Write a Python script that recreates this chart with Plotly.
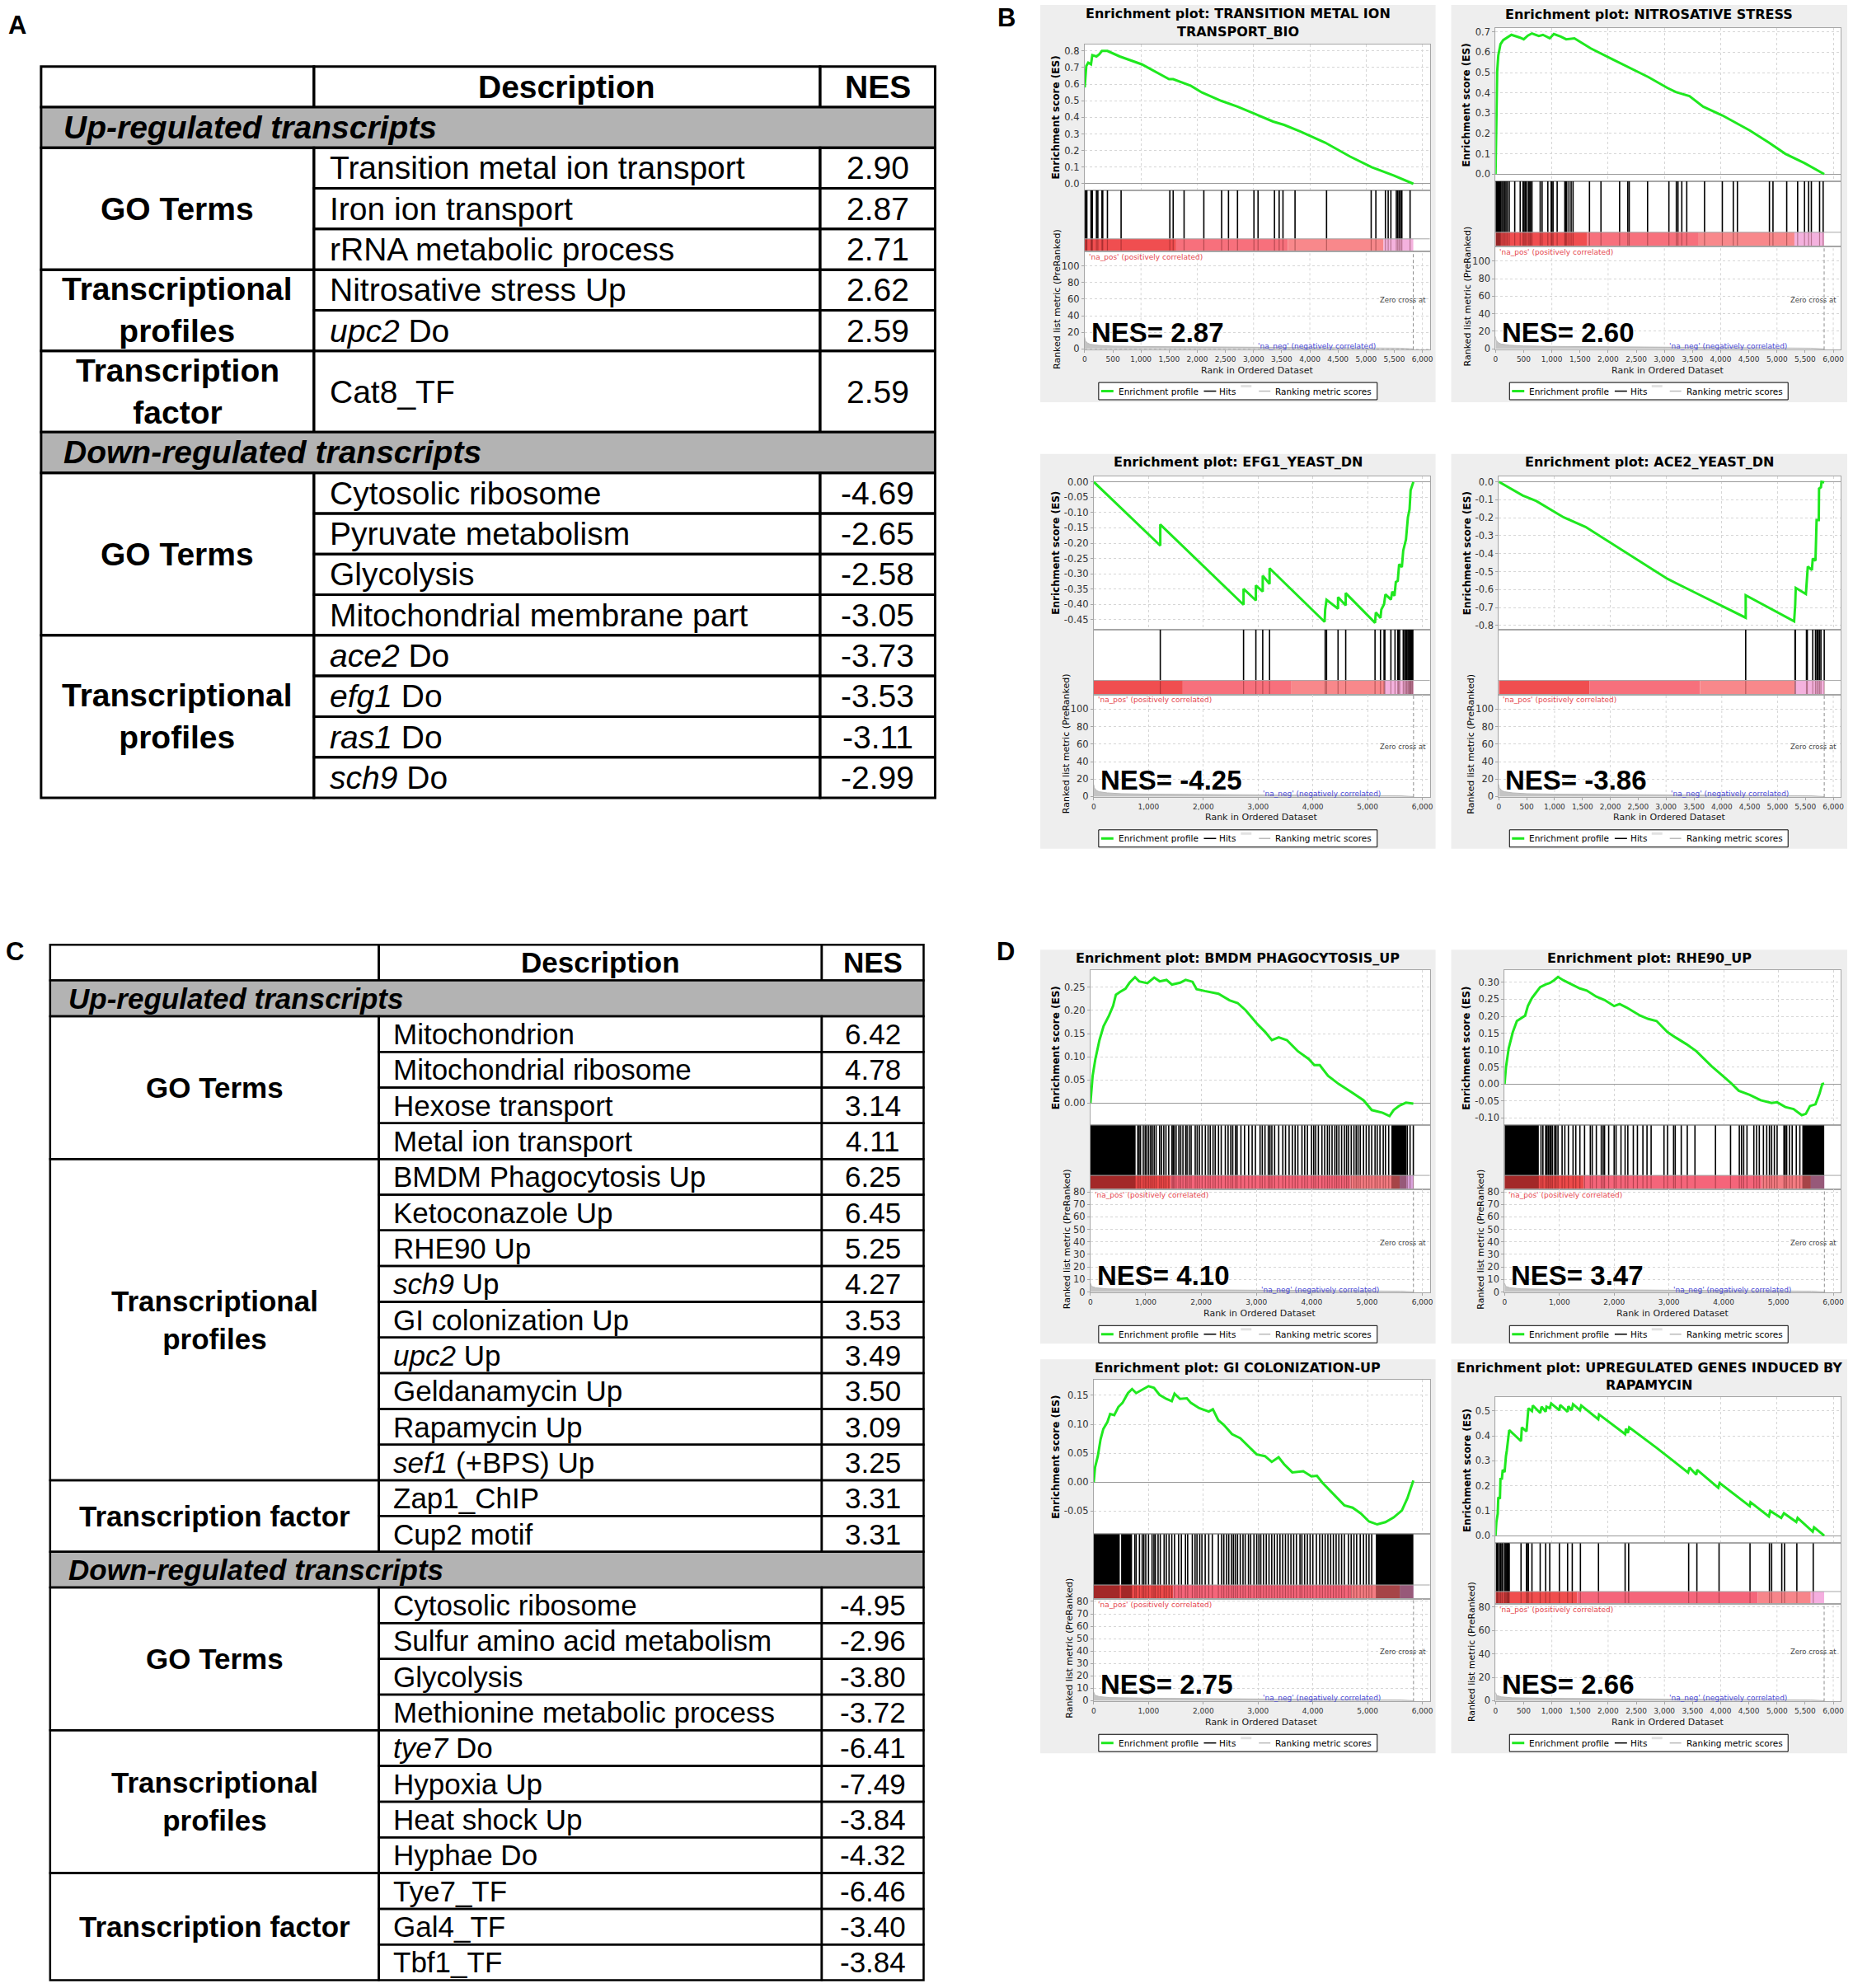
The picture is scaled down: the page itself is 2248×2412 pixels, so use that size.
import plotly.graph_objects as go

W, H = 2248, 2412
TFONT = "Liberation Sans, Arial, Helvetica, sans-serif"
GFONT = "DejaVu Sans, Verdana, sans-serif"

# ---------------- Table A ----------------
A_UP_GO = [("Transition metal ion transport", 2.90), ("Iron ion transport", 2.87), ("rRNA metabolic process", 2.71)]
A_UP_TP = [("Nitrosative stress Up", 2.62), ("<i>upc2</i> Do", 2.59)]
A_UP_TF = [("Cat8_TF", 2.59)]
A_DN_GO = [("Cytosolic ribosome", -4.69), ("Pyruvate metabolism", -2.65), ("Glycolysis", -2.58),
           ("Mitochondrial membrane part", -3.05)]
A_DN_TP = [("<i>ace2</i> Do", -3.73), ("<i>efg1</i> Do", -3.53), ("<i>ras1</i> Do", -3.11), ("<i>sch9</i> Do", -2.99)]

# ---------------- Table C ----------------
C_UP_GO = [("Mitochondrion", 6.42), ("Mitochondrial ribosome", 4.78), ("Hexose transport", 3.14),
           ("Metal ion transport", 4.11)]
C_UP_TP = [("BMDM Phagocytosis Up", 6.25), ("Ketoconazole Up", 6.45), ("RHE90 Up", 5.25), ("<i>sch9</i> Up", 4.27),
           ("GI colonization Up", 3.53), ("<i>upc2</i> Up", 3.49), ("Geldanamycin Up", 3.50), ("Rapamycin Up", 3.09),
           ("<i>sef1</i> (+BPS) Up", 3.25)]
C_UP_TF = [("Zap1_ChIP", 3.31), ("Cup2 motif", 3.31)]
C_DN_GO = [("Cytosolic ribosome", -4.95), ("Sulfur amino acid metabolism", -2.96), ("Glycolysis", -3.80),
           ("Methionine metabolic process", -3.72)]
C_DN_TP = [("<i>tye7</i> Do", -6.41), ("Hypoxia Up", -7.49), ("Heat shock Up", -3.84), ("Hyphae Do", -4.32)]
C_DN_TF = [("Tye7_TF", -6.46), ("Gal4_TF", -3.40), ("Tbf1_TF", -3.84)]

# ---------------- GSEA enrichment plots (B and D) ----------------
GSEA_TITLES = [
    ["Enrichment plot: TRANSITION METAL ION", "TRANSPORT_BIO"],
    ["Enrichment plot: NITROSATIVE STRESS"],
    ["Enrichment plot: EFG1_YEAST_DN"],
    ["Enrichment plot: ACE2_YEAST_DN"],
    ["Enrichment plot: BMDM PHAGOCYTOSIS_UP"],
    ["Enrichment plot: RHE90_UP"],
    ["Enrichment plot: GI COLONIZATION-UP"],
    ["Enrichment plot: UPREGULATED GENES INDUCED BY", "RAPAMYCIN"],
]
GSEA_NES = ["2.87", "2.60", "-4.25", "-3.86", "4.10", "3.47", "2.75", "2.66"]

B1_ES = [(0, 0.58), (29, 0.71), (63, 0.73), (112, 0.72), (136, 0.775), (209, 0.767), (258, 0.78), (307, 0.80),
         (404, 0.80), (623, 0.767), (1012, 0.72), (1499, 0.63), (1572, 0.63), (1888, 0.59), (2083, 0.55),
         (2423, 0.50), (2715, 0.465), (3007, 0.425), (3348, 0.375), (3543, 0.355), (3834, 0.315), (4272, 0.248),
         (4710, 0.165), (5100, 0.10), (5489, 0.05), (5839, 0.0)]
B2_ES = [(0, 0.0), (15, 0.30), (29, 0.505), (49, 0.585), (88, 0.64), (136, 0.66), (209, 0.673), (282, 0.686),
         (428, 0.673), (501, 0.664), (574, 0.682), (647, 0.693), (769, 0.68), (842, 0.686), (963, 0.669),
         (1036, 0.69), (1158, 0.677), (1255, 0.664), (1401, 0.669), (1693, 0.619), (2083, 0.565), (2375, 0.525),
         (2715, 0.478), (3056, 0.424), (3202, 0.404), (3445, 0.384), (3689, 0.332), (4029, 0.289), (4272, 0.252),
         (4516, 0.215), (4856, 0.155), (5148, 0.10), (5489, 0.054), (5839, 0.0)]
B3_ES = [(0, 0.0), (1215, -0.208), (1215, -0.139), (2735, -0.401), (2735, -0.349), (2960, -0.387), (2960, -0.338),
         (3085, -0.358), (3085, -0.306), (3210, -0.333), (3210, -0.282), (4215, -0.457), (4225, -0.417),
         (4250, -0.385), (4460, -0.414), (4460, -0.376), (4600, -0.403), (4600, -0.363), (5135, -0.46),
         (5150, -0.426), (5235, -0.444), (5250, -0.417), (5300, -0.399), (5325, -0.367), (5425, -0.384),
         (5450, -0.358), (5490, -0.372), (5515, -0.327), (5550, -0.323), (5575, -0.269), (5625, -0.278),
         (5650, -0.224), (5700, -0.188), (5735, -0.116), (5765, -0.09), (5785, -0.027), (5835, 0.0)]
B4_ES = [(0, 0.0), (427, -0.076), (673, -0.107), (1164, -0.198), (1556, -0.251), (1949, -0.328), (2538, -0.442),
         (3029, -0.541), (3521, -0.617), (3962, -0.686), (4429, -0.757), (4429, -0.632), (5298, -0.777),
         (5317, -0.686), (5327, -0.591), (5509, -0.625), (5524, -0.556), (5543, -0.472), (5617, -0.491),
         (5632, -0.427), (5681, -0.439), (5691, -0.29), (5701, -0.213), (5740, -0.213), (5745, -0.038),
         (5779, -0.030), (5789, 0.0), (5838, -0.003)]
D1_ES = [(0, 0.0), (40, 0.059), (89, 0.095), (163, 0.136), (237, 0.166), (336, 0.189), (410, 0.210), (460, 0.234),
         (534, 0.24), (633, 0.247), (707, 0.26), (806, 0.272), (880, 0.263), (1029, 0.259), (1152, 0.271),
         (1251, 0.263), (1375, 0.266), (1474, 0.256), (1622, 0.26), (1721, 0.266), (1845, 0.262), (1919, 0.246),
         (2067, 0.242), (2216, 0.238), (2315, 0.236), (2513, 0.222), (2661, 0.216), (2809, 0.20), (3007, 0.172),
         (3155, 0.154), (3279, 0.136), (3403, 0.142), (3551, 0.136), (3749, 0.112), (3947, 0.095), (4046, 0.082),
         (4145, 0.082), (4293, 0.059), (4491, 0.041), (4738, 0.022), (4936, 0.006), (5084, -0.015),
         (5282, -0.021), (5406, -0.028), (5480, -0.015), (5579, -0.006), (5703, 0.001), (5836, -0.001)]
D2_ES = [(0, 0.0), (25, 0.049), (75, 0.105), (150, 0.153), (225, 0.186), (300, 0.194), (375, 0.202), (425, 0.23),
         (500, 0.254), (575, 0.27), (650, 0.286), (750, 0.294), (825, 0.298), (900, 0.306), (975, 0.316),
         (1075, 0.306), (1225, 0.294), (1375, 0.282), (1500, 0.276), (1675, 0.258), (1825, 0.248), (2000, 0.23),
         (2100, 0.236), (2225, 0.226), (2475, 0.202), (2625, 0.192), (2775, 0.186), (2975, 0.153), (3125, 0.137),
         (3325, 0.117), (3500, 0.097), (3775, 0.053), (3975, 0.025), (4125, 0.004), (4275, -0.02), (4475, -0.032),
         (4675, -0.048), (4875, -0.056), (4975, -0.054), (5125, -0.068), (5275, -0.074), (5425, -0.092),
         (5500, -0.088), (5575, -0.065), (5675, -0.06), (5750, -0.028), (5800, 0.0), (5835, 0.001)]
D3_ES = [(0, 0.0), (25, 0.026), (75, 0.045), (125, 0.074), (175, 0.092), (250, 0.104), (300, 0.118), (375, 0.116),
         (450, 0.13), (525, 0.137), (625, 0.154), (700, 0.161), (775, 0.154), (850, 0.158), (950, 0.164),
         (1000, 0.166), (1100, 0.163), (1200, 0.151), (1325, 0.144), (1425, 0.14), (1475, 0.153), (1575, 0.144),
         (1700, 0.145), (1775, 0.137), (1925, 0.128), (2100, 0.122), (2175, 0.126), (2275, 0.107), (2375, 0.099),
         (2525, 0.083), (2675, 0.076), (2825, 0.062), (2975, 0.048), (3125, 0.045), (3250, 0.035), (3375, 0.043),
         (3475, 0.031), (3625, 0.017), (3825, 0.019), (3975, 0.01), (4075, 0.011), (4175, -0.001), (4375, -0.021),
         (4575, -0.04), (4725, -0.044), (4875, -0.054), (5025, -0.068), (5175, -0.073), (5325, -0.069),
         (5475, -0.061), (5625, -0.049), (5725, -0.028), (5835, 0.003)]
D4_ES = [(0, 0.0), (15, 0.055), (39, 0.088), (49, 0.154), (78, 0.148), (88, 0.231), (112, 0.225), (127, 0.264),
         (161, 0.255), (170, 0.286), (185, 0.319), (200, 0.341), (224, 0.396), (243, 0.423), (453, 0.379),
         (467, 0.434), (550, 0.418), (564, 0.473), (584, 0.511), (647, 0.50), (662, 0.522), (793, 0.492),
         (818, 0.517), (890, 0.497), (905, 0.517), (963, 0.511), (988, 0.53), (1134, 0.503), (1148, 0.524),
         (1280, 0.497), (1294, 0.519), (1353, 0.503), (1377, 0.527), (1499, 0.503), (1523, 0.522), (1825, 0.467),
         (1839, 0.486), (2302, 0.407), (2316, 0.429), (2350, 0.412), (2375, 0.434), (2861, 0.352), (3421, 0.253),
         (3445, 0.273), (3567, 0.244), (3582, 0.264), (3957, 0.192), (3981, 0.211), (4516, 0.118), (4530, 0.134),
         (4856, 0.077), (4881, 0.099), (5075, 0.071), (5124, 0.09), (5343, 0.055), (5367, 0.071), (5635, 0.016),
         (5659, 0.033), (5839, 0.0)]

B1_HITS = [15, 29, 39, 112, 127, 136, 209, 234, 307, 321, 404, 647, 1513, 1572, 1766, 2117, 2433, 2555, 2715,
           3007, 3080, 3372, 3455, 3523, 3737, 4297, 5090, 5173, 5343, 5392, 5440, 5537, 5562, 5586, 5611, 5635,
           5781]
B2_HITS = [10, 19, 29, 39, 49, 58, 68, 78, 88, 112, 136, 161, 185, 209, 243, 341, 438, 487, 506, 526, 550, 584,
           608, 623, 647, 793, 827, 929, 988, 1002, 1022, 1095, 1231, 1246, 1265, 1304, 1343, 1377, 1669, 1873,
           2204, 2350, 2375, 2701, 3080, 3212, 3241, 3309, 3397, 3713, 4029, 4224, 4297, 4866, 4929, 5173, 5367,
           5489, 5562, 5611, 5757, 5820]
B3_HITS = [1215, 2735, 2960, 3085, 3210, 4225, 4250, 4460, 4600, 5135, 5235, 5300, 5315, 5425, 5500, 5550, 5565,
           5585, 5650, 5675, 5700, 5715, 5735, 5750, 5765, 5775, 5785, 5800, 5815, 5825]
B4_HITS = [4429, 5313, 5322, 5519, 5534, 5632, 5681, 5706, 5730, 5755, 5779, 5838]
D1_HITS = [856, 880, 905, 955, 989, 1019, 1053, 1088, 1118, 1152, 1187, 1251, 1286, 1326, 1365, 1415, 1474, 1494,
           1513, 1548, 1598, 1632, 1672, 1721, 1746, 1786, 1820, 1894, 1929, 1969, 2018, 2077, 2127, 2166, 2216,
           2255, 2315, 2364, 2438, 2488, 2537, 2572, 2621, 2651, 2720, 2785, 2859, 2923, 2982, 3066, 3106, 3155,
           3215, 3245, 3279, 3329, 3403, 3477, 3526, 3591, 3650, 3700, 3749, 3823, 3873, 3922, 3996, 4036, 4071,
           4120, 4184, 4234, 4283, 4318, 4367, 4417, 4451, 4491, 4540, 4590, 4629, 4664, 4714, 4763, 4803, 4837,
           4877, 4936, 4985, 5035, 5084, 5144, 5183, 5233, 5292, 5332, 5391, 5727, 5777, 5836]
D2_HITS = [665, 700, 750, 775, 800, 825, 850, 875, 915, 940, 975, 1050, 1100, 1165, 1250, 1300, 1375, 1460, 1565,
           1600, 1675, 1765, 1800, 1825, 1900, 2000, 2035, 2125, 2200, 2250, 2350, 2425, 2525, 2600, 2675, 2910,
           2975, 3085, 3115, 3225, 3335, 3475, 3850, 4125, 4285, 4325, 4365, 4425, 4550, 4600, 4650, 4725, 4785,
           4835, 4875, 4925, 4975, 5100, 5125, 5150, 5200, 5250, 5325, 5390]
D3_HITS = [750, 775, 835, 885, 915, 950, 1000, 1065, 1100, 1125, 1175, 1215, 1285, 1325, 1375, 1425, 1475, 1550,
           1600, 1675, 1715, 1800, 1850, 1885, 1935, 1975, 2035, 2100, 2165, 2275, 2335, 2375, 2425, 2465, 2515,
           2550, 2585, 2625, 2675, 2725, 2765, 2825, 2865, 2925, 2975, 3015, 3050, 3100, 3150, 3200, 3250, 3300,
           3350, 3400, 3450, 3500, 3550, 3600, 3650, 3700, 3765, 3800, 3850, 3900, 3950, 4000, 4065, 4125, 4175,
           4225, 4275, 4325, 4375, 4425, 4475, 4525, 4575, 4650, 4700, 4750, 4800, 4865, 4925, 4975, 5025, 5075]
D4_HITS = [15, 29, 39, 49, 78, 88, 112, 127, 161, 170, 185, 200, 209, 224, 234, 243, 453, 550, 564, 584, 647, 793,
           890, 963, 1134, 1280, 1363, 1508, 1829, 2302, 2365, 3431, 3577, 3971, 4521, 4866, 4905, 5085, 5134, 5353,
           5644]
D1_BLOCKS = [(0, 816), (5440, 5712)]
D2_BLOCKS = [(0, 625), (5435, 5835)]
D3_BLOCKS = [(0, 475), (500, 700), (5150, 5835)]

B_SEGS = [(0, 1625, "#F04E50"), (1625, 3610, "#F7707C"), (3610, 5310, "#F8888B"), (5310, 5838, "#F4B2DE")]
D_SEGS = [(0, 1450, "#EE4A4A"), (1450, 4700, "#F5657A"), (4700, 5590, "#F47C82"), (5590, 5838, "#D9A3DC")]
D4_SEGS = [(0, 1450, "#F04E4E"), (1450, 4660, "#F5657A"), (4660, 5600, "#F7858A"), (5600, 5838, "#F5AEDF")]

B_METRIC = [(0, 14), (10, 10), (50, 7), (100, 5.5), (250, 4.2), (500, 3.3), (1000, 2.8), (2000, 2.3), (3000, 2.0),
            (4000, 1.6), (5000, 1.2), (5600, 0.8), (5838, 0)]
D_METRIC = [(0, 7), (20, 4.5), (100, 3.3), (300, 2.5), (1000, 2.0), (3000, 1.5), (5000, 1.0), (5600, 0.6),
            (5838, 0)]
ZERO_CROSS = 5838

B1_ES_TICKS = [0.0, 0.1, 0.2, 0.3, 0.4, 0.5, 0.6, 0.7, 0.8]
B2_ES_TICKS = [0.0, 0.1, 0.2, 0.3, 0.4, 0.5, 0.6, 0.7]
B3_ES_TICKS = [0.0, -0.05, -0.10, -0.15, -0.20, -0.25, -0.30, -0.35, -0.40, -0.45]
B4_ES_TICKS = [0.0, -0.1, -0.2, -0.3, -0.4, -0.5, -0.6, -0.7, -0.8]
D1_ES_TICKS = [0.0, 0.05, 0.10, 0.15, 0.20, 0.25]
D2_ES_TICKS = [-0.10, -0.05, 0.0, 0.05, 0.10, 0.15, 0.20, 0.25, 0.30]
D3_ES_TICKS = [-0.05, 0.0, 0.05, 0.10, 0.15]
D4_ES_TICKS = [0.0, 0.1, 0.2, 0.3, 0.4, 0.5]
MET_TICKS_B = [0, 20, 40, 60, 80, 100]
MET_TICKS_D = [0, 10, 20, 30, 40, 50, 60, 70, 80]
MET_TICKS_D4 = [0, 20, 40, 60, 80]

# ---------------- layout geometry (pixels) ----------------
GEOM = [
    dict(z0=(1260, 0), bg=(3, 2, 484, 486), ty=[13, 35], left=57, es=(50, 228), bar=(287, 302), mb=422,
         esr=[-0.04, 0.84], dec=1, mr=[-1, 117.8], xstep=500),
    dict(z0=(1760, 0), bg=(3, 2, 485, 486), ty=[14], left=57, es=(30, 217), bar=(279, 296), mb=422,
         esr=[-0.036, 0.72], dec=1, mr=[-0.9, 116.8], xstep=500),
    dict(z0=(1260, 540), bg=(3, 9, 484, 490), ty=[19], left=68, es=(36, 223), bar=(285, 302), mb=427,
         esr=[-0.482, 0.019], dec=2, mr=[-0.5, 116.8], xstep=1000),
    dict(z0=(1760, 540), bg=(3, 9, 485, 490), ty=[19], left=61, es=(36, 223), bar=(285, 302), mb=427,
         esr=[-0.823, 0.032], dec=1, mr=[-0.5, 116.8], xstep=500),
    dict(z0=(1260, 1140), bg=(3, 13, 484, 493), ty=[23], left=64, es=(38, 227), bar=(288, 305), mb=431,
         esr=[-0.048, 0.287], dec=2, mr=[-0.66, 82], xstep=1000),
    dict(z0=(1760, 1140), bg=(3, 13, 485, 493), ty=[23], left=68, es=(38, 227), bar=(288, 305), mb=431,
         esr=[-0.122, 0.336], dec=2, mr=[-0.66, 82], xstep=1000),
    dict(z0=(1260, 1640), bg=(3, 12, 484, 492), ty=[22], left=68, es=(37, 225), bar=(287, 304), mb=429,
         esr=[-0.0897, 0.177], dec=2, mr=[-0.66, 82], xstep=1000),
    dict(z0=(1760, 1640), bg=(3, 12, 485, 492), ty=[22, 43], left=57, es=(58, 236), bar=(295, 310), mb=429,
         esr=[-0.03, 0.556], dec=1, mr=[-0.7, 82.8], xstep=500),
]

PANEL_BG = "#EEEEEE"
FRAME = "#A6A6A6"
GRID = "#D6D6D6"
GDASH = "3px,3px"
GREEN = "#1FE81F"
BAND_GRAY = "#B3B3B3"

shapes, annotations, traces = [], [], []
axes = {}


def X(px):
    return px / W


def Y(py):
    return 1 - py / H


def prect(x0, y0, x1, y1, fill="rgba(0,0,0,0)", lw=0, lc="black", layer="below"):
    shapes.append(dict(type="rect", xref="paper", yref="paper", x0=X(x0), x1=X(x1), y0=Y(y1), y1=Y(y0),
                       line=dict(width=lw, color=lc), fillcolor=fill, layer=layer))


def pline(x0, y0, x1, y1, lw=1, color="black", layer="above"):
    shapes.append(dict(type="line", xref="paper", yref="paper", x0=X(x0), x1=X(x1), y0=Y(y0), y1=Y(y1),
                       line=dict(width=lw, color=color), layer=layer))


def ptext(x, y, s, size, family=TFONT, color="black", xanchor="center", yanchor="middle", angle=0):
    annotations.append(dict(x=X(x), y=Y(y), xref="paper", yref="paper", text=s, showarrow=False,
                            xanchor=xanchor, yanchor=yanchor, textangle=angle,
                            font=dict(size=size, family=family, color=color)))


def xr_(n):
    return "x" if n == 1 else f"x{n}"


def yr_(n):
    return "y" if n == 1 else f"y{n}"


def xk(n):
    return "xaxis" if n == 1 else f"xaxis{n}"


def yk(n):
    return "yaxis" if n == 1 else f"yaxis{n}"


# ---------------- tables ----------------
def draw_table(cols, top, rh, sections, fs, lw, pad_desc, pad_band):
    c0, c1, c2, c3 = cols
    y = top
    for a, b in ((c0, c1), (c1, c2), (c2, c3)):
        prect(a, y, b, y + rh, lw=lw, layer="above")
    ptext((c1 + c2) / 2, y + rh / 2, "<b>Description</b>", fs)
    ptext((c2 + c3) / 2, y + rh / 2, "<b>NES</b>", fs)
    y += rh
    for sec in sections:
        if isinstance(sec, str):
            prect(c0, y, c3, y + rh, fill=BAND_GRAY, lw=lw, layer="above")
            ptext(c0 + pad_band, y + rh / 2, f"<b><i>{sec}</i></b>", fs, xanchor="left")
            y += rh
            continue
        label, rows, unit = sec
        gh = len(rows) * unit * rh
        prect(c0, y, c1, y + gh, lw=lw, layer="above")
        ptext((c0 + c1) / 2, y + gh / 2, f"<b>{label}</b>", fs)
        for desc, nes in rows:
            h = unit * rh
            prect(c1, y, c2, y + h, lw=lw, layer="above")
            prect(c2, y, c3, y + h, lw=lw, layer="above")
            ptext(c1 + pad_desc, y + h / 2, desc, fs, xanchor="left")
            ptext((c2 + c3) / 2, y + h / 2, f"{nes:.2f}", fs)
            y += h


draw_table((47, 379, 995, 1135), 77, 49.5,
           ["Up-regulated transcripts",
            ("GO Terms", A_UP_GO, 1), ("Transcriptional<br>profiles", A_UP_TP, 1),
            ("Transcription<br>factor", A_UP_TF, 2),
            "Down-regulated transcripts",
            ("GO Terms", A_DN_GO, 1), ("Transcriptional<br>profiles", A_DN_TP, 1)],
           39, 3, 17, 25)

draw_table((58, 458, 997, 1121), 1147, 43.5,
           ["Up-regulated transcripts",
            ("GO Terms", C_UP_GO, 1), ("Transcriptional<br>profiles", C_UP_TP, 1),
            ("Transcription factor", C_UP_TF, 1),
            "Down-regulated transcripts",
            ("GO Terms", C_DN_GO, 1), ("Transcriptional<br>profiles", C_DN_TP, 1),
            ("Transcription factor", C_DN_TF, 1)],
           35, 2.5, 15, 20)

for letter, lx, ly in [("A", 18, 27), ("B", 1222, 18), ("C", 15, 1155), ("D", 1221, 1155)]:
    ptext(lx, ly, f"<b>{letter}</b>", 31)


# ---------------- GSEA panels ----------------
def draw_panel(k, g, title, nes, es_pts, es_ticks, hits, blocks, segs, metric_pts, met_ticks):
    zx, zy = g["z0"]
    L, R = g["left"], 477
    a0, a1 = zx + L, zx + R
    es_t, es_b = zy + g["es"][0], zy + g["es"][1]
    bar_t, bar_b = zy + g["bar"][0], zy + g["bar"][1]
    met_b = zy + g["mb"]
    xmax = 6000 * (R - L) / (468 - L)
    bx0, by0, bx1, by1 = g["bg"]
    prect(zx + bx0, zy + by0, zx + bx1, zy + by1, fill=PANEL_BG)
    prect(a0, es_t, a1, met_b, fill="white")

    n1, n2, n3 = 3 * k + 1, 3 * k + 2, 3 * k + 3
    xdom = [X(a0), X(a1)]
    frame = dict(showline=True, mirror=True, linecolor=FRAME, linewidth=1)
    tf = dict(family=GFONT, size=11.5, color="#333333")
    dec = g["dec"]
    es_text = []
    for v in es_ticks:
        s = f"{v:.{dec}f}"
        if abs(v) < 1e-9:
            s = f"{0:.{dec}f}"
        es_text.append(s)
    axes[xk(n1)] = dict(domain=xdom, range=[0, xmax], anchor=yr_(n1), tickvals=list(range(0, 6001, 1000)),
                        showticklabels=False, ticks="", showgrid=True, gridcolor=GRID, griddash=GDASH,
                        zeroline=False, **frame)
    axes[yk(n1)] = dict(domain=[Y(es_b), Y(es_t)], range=g["esr"], anchor=xr_(n1), tickvals=es_ticks,
                        ticktext=es_text, ticks="outside", ticklen=3, tickcolor=FRAME, tickfont=tf, showgrid=True,
                        gridcolor=GRID, griddash=GDASH, zeroline=True, zerolinecolor="#9A9A9A", zerolinewidth=1,
                        **frame)
    hb = bar_b - bar_t
    ht = bar_b - es_b
    axes[xk(n2)] = dict(domain=xdom, range=[0, xmax], anchor=yr_(n2), showticklabels=False, ticks="",
                        showgrid=False, zeroline=False, **frame)
    axes[yk(n2)] = dict(domain=[Y(bar_b), Y(es_b)], range=[0, ht], anchor=xr_(n2), showticklabels=False,
                        ticks="", showgrid=False, zeroline=False, **frame)
    xt = list(range(0, 6001, g["xstep"]))
    axes[xk(n3)] = dict(domain=xdom, range=[0, xmax], anchor=yr_(n3), tickvals=xt,
                        ticktext=[f"{v:,}" for v in xt], ticks="outside", ticklen=3, tickcolor=FRAME,
                        tickfont=dict(family=GFONT, size=9, color="#333333"), showgrid=(g["xstep"] == 1000),
                        gridcolor=GRID, griddash=GDASH, zeroline=False, **frame)
    axes[yk(n3)] = dict(domain=[Y(met_b), Y(bar_b)], range=g["mr"], anchor=xr_(n3), tickvals=met_ticks,
                        ticktext=[str(v) for v in met_ticks], ticks="outside", ticklen=3, tickcolor=FRAME,
                        tickfont=tf, showgrid=True, gridcolor=GRID, griddash=GDASH, zeroline=False, **frame)
    if g["xstep"] != 1000:
        for xv in range(1000, 6001, 1000):
            shapes.append(dict(type="line", xref=xr_(n3), yref=yr_(n3) + " domain", x0=xv, x1=xv, y0=0, y1=1,
                               line=dict(color=GRID, width=1, dash=GDASH), layer="below"))

    common = dict(hoverinfo="skip", showlegend=False)
    # colour bar
    for s, e, c in segs:
        traces.append(go.Scatter(x=[s, e, e, s, s], y=[0, 0, hb, hb, 0], fill="toself", fillcolor=c,
                                 mode="lines", line=dict(width=0, color=c), xaxis=xr_(n2), yaxis=yr_(n2), **common))
    # hit blocks
    if blocks:
        bx, by, ox, oy = [], [], [], []
        for s, e in blocks:
            bx += [s, e, e, s, s, None]
            by += [hb, hb, ht, ht, hb, None]
            ox += [s, e, e, s, s, None]
            oy += [0, 0, hb, hb, 0, None]
        traces.append(go.Scatter(x=bx, y=by, fill="toself", fillcolor="black", mode="lines",
                                 line=dict(width=0, color="black"), xaxis=xr_(n2), yaxis=yr_(n2), **common))
        traces.append(go.Scatter(x=ox, y=oy, fill="toself", fillcolor="rgba(70,0,0,0.45)", mode="lines",
                                 line=dict(width=0, color="rgba(0,0,0,0)"), xaxis=xr_(n2), yaxis=yr_(n2), **common))
    # hits
    hx, hy, ux, uy = [], [], [], []
    for h in hits:
        hx += [h, h, None]
        hy += [hb, ht, None]
        ux += [h, h, None]
        uy += [0, hb, None]
    traces.append(go.Scatter(x=hx, y=hy, mode="lines", line=dict(color="black", width=1.6),
                             xaxis=xr_(n2), yaxis=yr_(n2), **common))
    traces.append(go.Scatter(x=ux, y=uy, mode="lines", line=dict(color="rgba(70,0,0,0.35)", width=1.2),
                             xaxis=xr_(n2), yaxis=yr_(n2), **common))
    pline(a0, bar_t, a1, bar_t, color=FRAME)
    # enrichment profile
    traces.append(go.Scatter(x=[p[0] for p in es_pts], y=[p[1] for p in es_pts], mode="lines",
                             line=dict(color=GREEN, width=3), xaxis=xr_(n1), yaxis=yr_(n1), **common))
    # ranked list metric
    traces.append(go.Scatter(x=[p[0] for p in metric_pts], y=[p[1] for p in metric_pts], mode="lines",
                             fill="tozeroy", fillcolor="#C4C4C4", line=dict(color="#B8B8B8", width=1),
                             xaxis=xr_(n3), yaxis=yr_(n3), **common))
    traces.append(go.Scatter(x=[ZERO_CROSS, ZERO_CROSS], y=g["mr"], mode="lines",
                             line=dict(color="#8C8C8C", width=1, dash="4px,3px"),
                             xaxis=xr_(n3), yaxis=yr_(n3), **common))

    # texts
    cx = zx + (bx0 + bx1) / 2
    for t, ty in zip(title, g["ty"]):
        ptext(cx, zy + ty, f"<b>{t}</b>", 16, GFONT)
    ptext(zx + 22, (es_t + es_b) / 2, "<b>Enrichment score (ES)</b>", 12, GFONT, angle=-90)
    off = 34 if max(met_ticks) >= 100 else 29
    ptext(zx + L - off, (bar_t + met_b) / 2 + 6, "Ranked list metric (PreRanked)", 11, GFONT, angle=-90)
    ptext((a0 + a1) / 2, met_b + 25, "Rank in Ordered Dataset", 11, GFONT, color="#222222")
    ptext(a0 + 6, met_b - 21, f"<b>NES= {nes}</b>", 33, TFONT, xanchor="left")
    ptext(a0 + 3, bar_b + 7, "'na_pos' (positively correlated)", 9, GFONT, color="#E5464E", xanchor="left")
    ptext(a0 + (3050 / xmax) * (a1 - a0), met_b - 4, "'na_neg' (negatively correlated)", 9, GFONT,
          color="#4A4AD6", xanchor="left")
    ptext(a1 - 3, met_b - 61, "Zero cross at", 8.5, GFONT, color="#444444", xanchor="right")

    # legend box
    ly = met_b + 50.5
    prect(zx + 74, met_b + 40, zx + 413, met_b + 61, fill="white", lw=1, lc="black", layer="above")
    pline(zx + 77, ly, zx + 92, ly, lw=3, color=GREEN)
    ptext(zx + 96, ly, "Enrichment profile", 10.5, GFONT, xanchor="left")
    pline(zx + 202, ly, zx + 217, ly, lw=1.5, color="black")
    ptext(zx + 219, ly, "Hits", 10.5, GFONT, xanchor="left")
    prect(zx + 247, met_b + 43, zx + 260, met_b + 46, fill="#E2E2E2", layer="above")
    pline(zx + 269, ly, zx + 283, ly, lw=1.5, color="#BBBBBB")
    ptext(zx + 287, ly, "Ranking metric scores", 10.5, GFONT, xanchor="left")


ES_LIST = [B1_ES, B2_ES, B3_ES, B4_ES, D1_ES, D2_ES, D3_ES, D4_ES]
TICK_LIST = [B1_ES_TICKS, B2_ES_TICKS, B3_ES_TICKS, B4_ES_TICKS, D1_ES_TICKS, D2_ES_TICKS, D3_ES_TICKS,
             D4_ES_TICKS]
HIT_LIST = [B1_HITS, B2_HITS, B3_HITS, B4_HITS, D1_HITS, D2_HITS, D3_HITS, D4_HITS]
BLOCK_LIST = [[], [], [], [], D1_BLOCKS, D2_BLOCKS, D3_BLOCKS, []]
SEG_LIST = [B_SEGS, B_SEGS, B_SEGS, B_SEGS, D_SEGS, D_SEGS, D_SEGS, D4_SEGS]
METRIC_LIST = [B_METRIC] * 4 + [D_METRIC] * 4
MET_TICK_LIST = [MET_TICKS_B] * 4 + [MET_TICKS_D] * 3 + [MET_TICKS_D4]

for k in range(8):
    draw_panel(k, GEOM[k], GSEA_TITLES[k], GSEA_NES[k], ES_LIST[k], TICK_LIST[k], HIT_LIST[k], BLOCK_LIST[k],
               SEG_LIST[k], METRIC_LIST[k], MET_TICK_LIST[k])

fig = go.Figure(data=traces)
fig.update_layout(width=W, height=H, autosize=False, margin=dict(l=0, r=0, t=0, b=0),
                  paper_bgcolor="white", plot_bgcolor="rgba(0,0,0,0)", showlegend=False,
                  shapes=shapes, annotations=annotations, **axes)
fig.write_html("out.html", config={"displayModeBar": False, "staticPlot": True},
               post_script="document.body.style.margin='0px';document.body.style.padding='0px';"
                           "document.body.style.overflow='hidden';")
